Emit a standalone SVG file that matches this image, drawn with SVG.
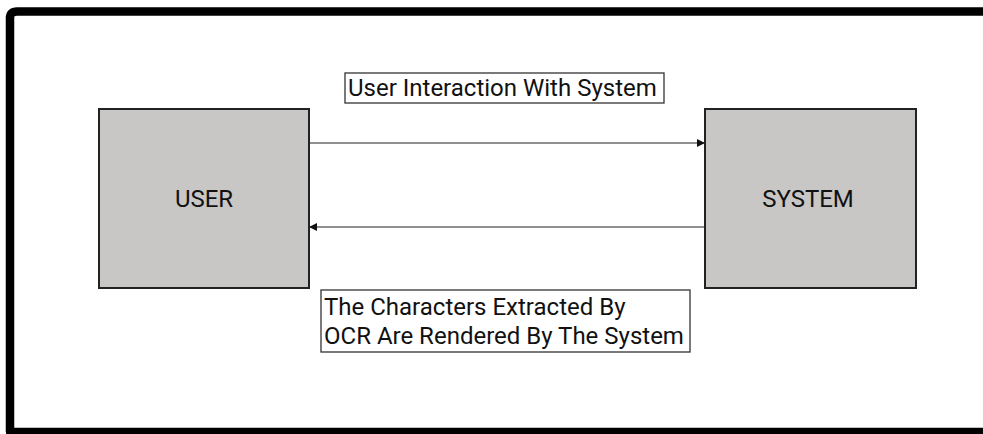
<svg xmlns="http://www.w3.org/2000/svg" width="983" height="434" viewBox="0 0 983 434">
<defs>
<marker id="ah" viewBox="0 0 10 10" refX="10" refY="5" markerWidth="8" markerHeight="8" markerUnits="userSpaceOnUse" orient="auto">
<path d="M0,0 L10,5 L0,10 z" fill="#111"/>
</marker>
<style>
.box{fill:#c8c7c5;stroke:#222;stroke-width:2}
.lbl{fill:#fff;stroke:#333;stroke-width:1.3}
.t{font-family:Roboto,"Liberation Sans",sans-serif;fill:#111;font-size:24px}
.conn{stroke:#222;stroke-width:1.2;fill:none}
</style>
</defs>
<rect width="983" height="434" fill="#fff"/>
<path d="M10,432 L10,18 Q10,11.5 17,11.5 L990,11.5 M6,432 L990,432" fill="none" stroke="#000" stroke-width="8.5"/>
<g id="user">
<rect class="box" x="99" y="109" width="210" height="179"/>
<text class="t" x="204" y="207" text-anchor="middle">USER</text>
</g>
<g id="system">
<rect class="box" x="705" y="109" width="211" height="179"/>
<text class="t" x="808" y="207" text-anchor="middle">SYSTEM</text>
</g>
<g id="label-top">
<rect class="lbl" x="345" y="73" width="319" height="30"/>
<text class="t" x="348" y="96">User Interaction With System</text>
</g>
<g id="label-bottom">
<rect class="lbl" x="321" y="290" width="369" height="62"/>
<text class="t" x="324" y="315">The Characters Extracted By</text>
<text class="t" x="324" y="344">OCR Are Rendered By The System</text>
</g>
<g id="connectors">
<line class="conn" x1="309" y1="143" x2="705" y2="143" marker-end="url(#ah)"/>
<line class="conn" x1="705" y1="227" x2="309" y2="227" marker-end="url(#ah)"/>
</g>
</svg>
